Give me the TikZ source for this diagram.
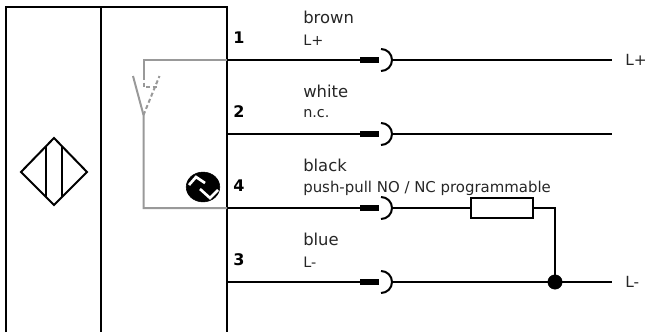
\documentclass[tikz,border=0pt]{standalone}
\usepackage{fontspec}
\setmainfont{DejaVu Sans}
\tikzset{
	wire/.style={line width=1.5pt},
	graywire/.style={line width=1.5pt, color=black!40},
	plugbar/.style={fill=black, draw=none, minimum width=14pt, minimum height=5pt, inner sep=0pt},
	colour/.style={anchor=west, inner sep=0pt, text=black!85, font=\fontsize{12.3}{12.3}\selectfont},
	signal/.style={anchor=west, inner sep=0pt, text=black!85, font=\fontsize{10.8}{10.8}\selectfont},
	pin/.style={anchor=center, inner sep=0pt, font=\fontsize{12}{12}\selectfont\bfseries},
}
\begin{document}
\begin{tikzpicture}[x=0.75pt, y=-0.75pt]
	\useasboundingbox (0,0) rectangle (646,332);
	\coordinate (TL) at (6,7);
	\coordinate (TM) at (101,7);
	\coordinate (TR) at (227,7);
	\coordinate (BL) at (6,332);
	\coordinate (BM) at (101,332);
	\coordinate (BR) at (227,332);
	\draw[wire](BL) -- (TL) -- (TR) -- (BR);
	\draw[wire](TM) -- (BM);

	\coordinate (DL) at (21,172);
	\coordinate (DT) at (54,138);
	\coordinate (DR) at (87,172);
	\coordinate (DB) at (54,205);
	\draw[wire](DL) -- (DT) -- (DR) -- (DB) -- cycle;
	\draw[wire](46,147) -- (46,197);
	\draw[wire](62,147) -- (62,197);

	\coordinate (W1) at (227,60);
	\coordinate (W2) at (227,134);
	\coordinate (W4) at (227,208);
	\coordinate (W3) at (227,282);
	\node[plugbar] (bar1) at (369.5,60) {};
	\node[plugbar] (bar2) at (369.5,134) {};
	\node[plugbar] (bar4) at (369.5,208) {};
	\node[plugbar] (bar3) at (369.5,282) {};
	\coordinate (cup1) at (392,60);
	\coordinate (cup2) at (392,134);
	\coordinate (cup4) at (392,208);
	\coordinate (cup3) at (392,282);
	\draw[wire](W1) -- (bar1);
	\draw[wire](W2) -- (bar2);
	\draw[wire](W4) -- (bar4);
	\draw[wire](W3) -- (bar3);
	\draw[wire](381,49) arc[start angle=90, end angle=-90, radius=8.25pt];
	\draw[wire](381,123) arc[start angle=90, end angle=-90, radius=8.25pt];
	\draw[wire](381,197) arc[start angle=90, end angle=-90, radius=8.25pt];
	\draw[wire](381,271) arc[start angle=90, end angle=-90, radius=8.25pt];

	\coordinate (E1) at (612,60);
	\coordinate (E2) at (612,134);
	\coordinate (E3) at (612,282);
	\coordinate (J) at (555,282);
	\coordinate (K) at (555,208);
	\draw[wire](cup1) -- (E1);
	\draw[wire](cup2) -- (E2);
	\draw[wire](cup3) -- (E3);
	\node[draw, line width=1.5pt, fill=white, minimum width=46.5pt, minimum height=15pt, inner sep=0pt] (load) at (502,208) {};
	\draw[wire](cup4) -- (load);
	\draw[wire](load) -- (K) -- (J);
	\draw[fill] (J) circle [radius=5.4pt];

	\coordinate (S0) at (143.5,115);
	\coordinate (S1) at (143.5,60);
	\coordinate (S2) at (143.5,76);
	\coordinate (S3) at (143.5,87);
	\coordinate (S4) at (158,87);
	\coordinate (S5) at (143.5,208);
	\coordinate (S6) at (133,76);
	\coordinate (S7) at (159.5,76);
	\draw[graywire](W1) -- (S1) -- (S2);
	\draw[graywire](W4) -- (S5) -- (S0) -- (S6);
	\draw[graywire, dash pattern=on 3pt off 2pt](S2) -- (S3) -- (S4);
	\draw[graywire, dash pattern=on 3pt off 2pt](S0) -- (S7);

	\draw[fill] (203,187) ellipse [x radius=12.6pt, y radius=11.2pt];
	\draw[white, line width=2pt](189,185) -- (196,177) -- (205,183);
	\draw[white, line width=2pt](200,189) -- (210,198) -- (218,190);

	\node[pin] (pin1) at (239,38) {1};
	\node[pin] (pin2) at (239,112) {2};
	\node[pin] (pin4) at (239,186) {4};
	\node[pin] (pin3) at (239,260) {3};
	\node[colour] (brown) at (303,17.5) {brown};
	\node[signal] (sig1) at (303,40) {L+};
	\node[colour] (white) at (303,91.5) {white};
	\node[signal] (sig2) at (303,114) {n.c.};
	\node[colour] (black) at (303,165.5) {black};
	\node[signal, font=\fontsize{11.2}{11.2}\selectfont] (sig4) at (303,188) {push-pull NO / NC programmable};
	\node[colour] (blue) at (303,239.5) {blue};
	\node[signal] (sig3) at (303,262) {L-};
	\node[signal, font=\fontsize{11.5}{11.5}\selectfont] (lplus) at (625,60) {L+};
	\node[signal, font=\fontsize{11.5}{11.5}\selectfont] (lminus) at (625,282) {L-};
\end{tikzpicture}
\end{document}
